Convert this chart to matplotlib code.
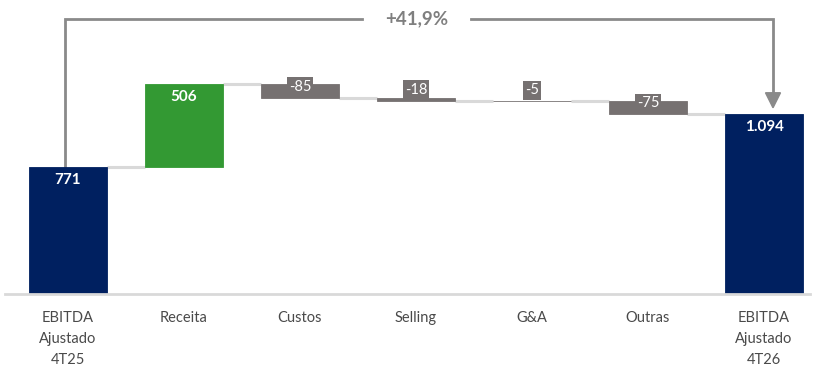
import matplotlib
matplotlib.use("Agg")
import matplotlib.pyplot as plt
from matplotlib.patches import Polygon

categories = ["EBITDA\nAjustado\n4T25", "Receita", "Custos", "Selling", "G&A", "Outras", "EBITDA\nAjustado\n4T26"]
deltas = [771, 506, -85, -18, -5, -75]
total_end = 1094
labels = ["771", "506", "-85", "-18", "-5", "-75", "1.094"]
growth_label = "+41,9%"

NAVY = "#002060"
GREEN = "#339933"
GRAY = "#767171"
CONN = "#d9d9d9"
BRACKET = "#8a8a8a"
FONT = ["Lato", "DejaVu Sans"]

fig = plt.figure(figsize=(8.14, 3.67), dpi=100)
W, H = 814, 367
ax = fig.add_axes([0, (H - 294) / H, 1, 294 / H])
upp = 6.07  # units per pixel
ax.set_ylim(0, 294 * upp)
ax.set_xlim(-68 / 116, (814 - 68) / 116)
ax.axis("off")

bw = 78 / 116
bottoms, heights, colors = [], [], []
running = 0
for i, d in enumerate(deltas):
    if i == 0:
        bottoms.append(0); heights.append(d); colors.append(NAVY)
        running = d
    else:
        if d >= 0:
            bottoms.append(running); heights.append(d); colors.append(GREEN)
        else:
            bottoms.append(running + d); heights.append(-d); colors.append(GRAY)
        running += d
bottoms.append(0); heights.append(total_end); colors.append(NAVY)

x = list(range(len(categories)))
ax.bar(x, heights, bottom=bottoms, width=bw, color=colors, edgecolor=colors, linewidth=0.6, zorder=3)

levels = []
running = 0
for i, d in enumerate(deltas):
    running = d if i == 0 else running + d
    levels.append(running)
for i, lvl in enumerate(levels):
    ax.plot([i + bw / 2, i + 1 - bw / 2], [lvl, lvl], color=CONN, lw=2.2, zorder=2, solid_capstyle="butt")

ax.plot([(5 - 68) / 116, (810 - 68) / 116], [0, 0], color=CONN, lw=2, zorder=4, clip_on=False)

for i in x:
    top = bottoms[i] + heights[i]
    if colors[i] in (NAVY, GREEN):
        ax.annotate(labels[i], (i, top), xytext=(0, -13), textcoords="offset pixels",
                    ha="center", va="center", color="white", fontsize=11, fontweight="bold",
                    family=FONT, zorder=5)
    else:
        endv = bottoms[i]
        ax.annotate(labels[i], (i, endv), xytext=(0, 11), textcoords="offset pixels",
                    ha="center", va="center", color="white", fontsize=10.5, family=FONT, zorder=5,
                    bbox=dict(boxstyle="square,pad=0.15", fc=GRAY, ec="none"))

for i, c in enumerate(categories):
    ax.text(i, -17 * upp, c, ha="center", va="top", fontsize=10.5, color="#4a4a4a",
            family=FONT, linespacing=1.65, clip_on=False)

ytop = (294 - 19) * upp
xl = (65 - 68) / 116
xr = 6 + 9 / 116
ax.plot([xl, xl, (362 - 68) / 116], [levels[0], ytop, ytop], color=BRACKET, lw=2, zorder=2,
        solid_joinstyle="miter")
ax.plot([(471 - 68) / 116, xr, xr], [ytop, ytop, total_end + 20 * upp], color=BRACKET, lw=2,
        zorder=2, solid_joinstyle="miter")
tri = Polygon([[xr - 7.5 / 116, total_end + 21 * upp], [xr + 7.5 / 116, total_end + 21 * upp],
               [xr, total_end + 6 * upp]], closed=True, color=BRACKET, zorder=2)
ax.add_patch(tri)
ax.text((417 - 68) / 116, ytop, growth_label, ha="center", va="center", fontsize=13.5,
        fontweight="bold", color="#7f7f7f", family=FONT)

fig.savefig("out.png", dpi=100)
